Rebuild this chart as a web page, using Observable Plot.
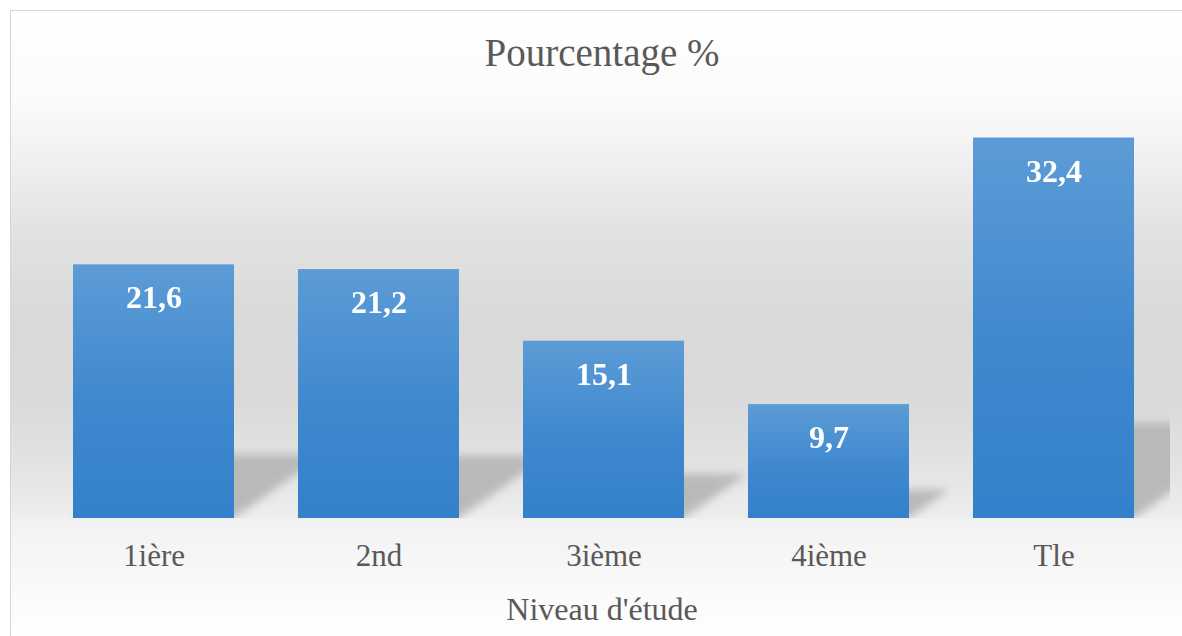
<!DOCTYPE html>
<html>
<head>
<meta charset="utf-8">
<script src="https://cdn.jsdelivr.net/npm/d3@7"></script>
<script src="https://cdn.jsdelivr.net/npm/@observablehq/plot@0.6"></script>
<style>
html, body { margin: 0; padding: 0; overflow: hidden; background: #ffffff; width: 1182px; height: 636px; }
#frame {
  position: absolute; left: 10px; top: 10px; width: 1200px; height: 640px;
  border-left: 1px solid #d6d6d6; border-top: 1px solid #d6d6d6;
  background: linear-gradient(to bottom,
    #ffffff 0px, #fbfbfb 90px, #f0f0f0 150px, #e2e2e2 220px, #d9d9d9 310px,
    #dadada 390px, #e2e2e2 450px, #eeeeee 507px, #f2f2f2 509px, #ffffff 626px);
}
#chart { position: absolute; left: 0; top: 0; }
.txt { position: absolute; left: 0; width: 1204px; text-align: center; color: #595959;
  font-family: "Liberation Serif", "Times New Roman", serif; line-height: 1; white-space: nowrap; }
#title { top: 33px; font-size: 39px; }
#xlabel { top: 593px; font-size: 32px; }
</style>
</head>
<body>
<div id="frame"></div>
<div id="chart"></div>
<div id="title" class="txt">Pourcentage %</div>
<div id="xlabel" class="txt">Niveau d'étude</div>
<script>
const categories = ["1ière", "2nd", "3ième", "4ième", "Tle"];
const values = [21.6, 21.2, 15.1, 9.7, 32.4];
const valueLabels = ["21,6", "21,2", "15,1", "9,7", "32,4"];
const yMax = 35;

const data = categories.map((c, i) => ({ niveau: c, pct: values[i], label: valueLabels[i] }));

const plot = Plot.plot({
  width: 1182,
  height: 636,
  marginLeft: 40,
  marginRight: 16,
  marginTop: 107,
  marginBottom: 118,
  style: { background: "transparent", fontFamily: "'Liberation Serif', 'Times New Roman', serif", color: "#595959" },
  x: { domain: categories, paddingInner: 0.285, paddingOuter: 0.1425, label: null },
  y: { domain: [0, yMax], axis: null },
  marks: [
    Plot.barY(data, { x: "niveau", y: d => d.pct * 0.25, fill: "#b9b9b9" }),
    Plot.barY(data, { x: "niveau", y: "pct", fill: "#4a90d2" }),
    Plot.text(data, { x: "niveau", y: "pct", text: "label", fill: "white", fontWeight: "bold", fontSize: 32, lineAnchor: "bottom", dy: 43.5 }),
    Plot.axisX({ tickSize: 0, tickPadding: 25, fontSize: 31, label: null })
  ]
});

document.getElementById("chart").appendChild(plot);

const svg = d3.select(plot);
const y0 = plot.scale("y").apply(0);
const defs = svg.insert("defs", ":first-child");
const grad = defs.append("linearGradient").attr("id", "barGrad")
  .attr("x1", 0).attr("y1", 0).attr("x2", 0).attr("y2", 1);
grad.append("stop").attr("offset", "0").attr("stop-color", "#5c9cd6");
grad.append("stop").attr("offset", "0.55").attr("stop-color", "#3f88ce");
grad.append("stop").attr("offset", "1").attr("stop-color", "#3381cb");
const filt = defs.append("filter").attr("id", "shadowBlur")
  .attr("x", "-10%").attr("y", "-20%").attr("width", "120%").attr("height", "140%");
filt.append("feGaussianBlur").attr("stdDeviation", 4);
defs.append("clipPath").attr("id", "shadowClip")
  .append("rect").attr("x", 11).attr("y", 0).attr("width", 1159).attr("height", y0);

const barGroups = svg.selectAll('g[aria-label="bar"]').nodes();
const shadowG = d3.select(barGroups[0]);
const wrap = svg.insert("g", () => barGroups[0]).attr("clip-path", "url(#shadowClip)");
wrap.node().appendChild(barGroups[0]);
shadowG.attr("filter", "url(#shadowBlur)");
shadowG.selectAll("rect").attr("transform", `translate(0,${y0}) skewX(-54.85) translate(0,${-y0})`);
d3.select(barGroups[1]).selectAll("rect").attr("fill", "url(#barGrad)");
</script>
</body>
</html>
